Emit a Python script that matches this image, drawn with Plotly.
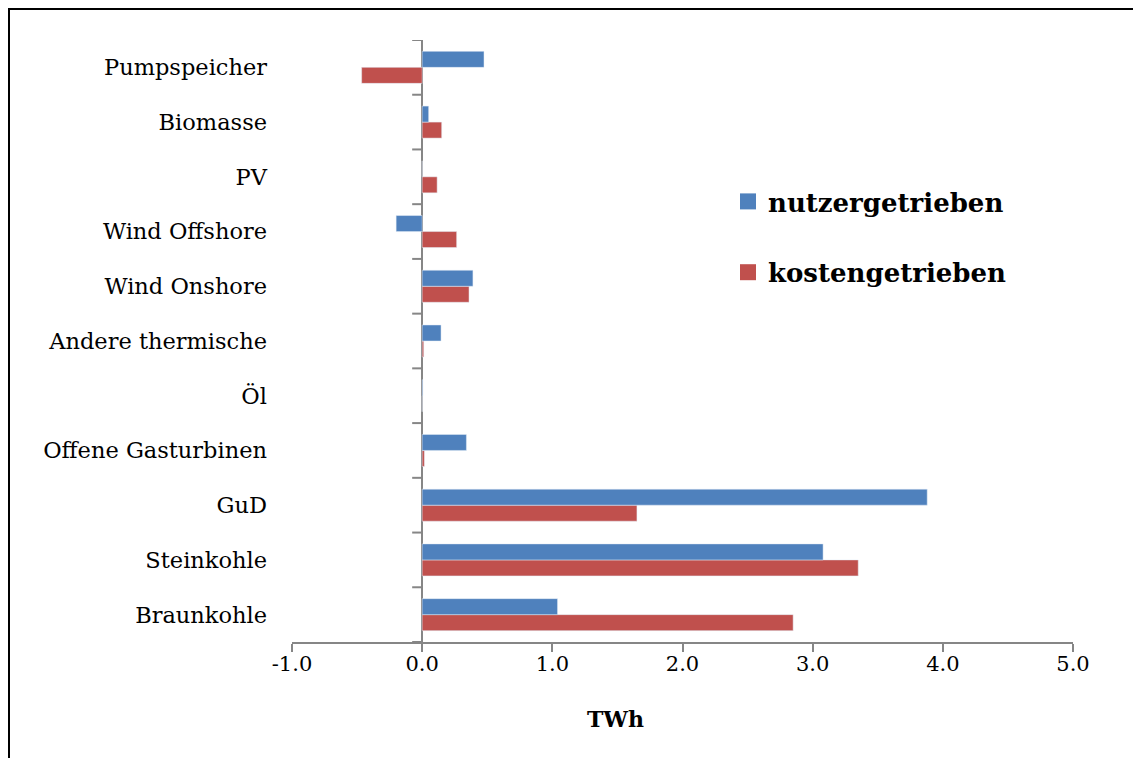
import plotly.graph_objects as go

categories = ["Braunkohle", "Steinkohle", "GuD", "Offene Gasturbinen", "Öl",
              "Andere thermische", "Wind Onshore", "Wind Offshore", "PV",
              "Biomasse", "Pumpspeicher"]
nutzergetrieben = [1.04, 3.08, 3.88, 0.34, 0.005, 0.145, 0.39, -0.20, 0.0, 0.05, 0.475]
kostengetrieben = [2.85, 3.35, 1.65, 0.017, 0.0, 0.012, 0.36, 0.265, 0.115, 0.15, -0.465]
x_ticks = [-1, 0, 1, 2, 3, 4, 5]
x_ticklabels = [f"{v:.1f}" for v in x_ticks]

BLUE = "#4F81BD"
RED = "#C0504D"
GRAY = "#868686"
FONT = "DejaVu Serif"

# page body has an 8px margin; figure sized to fit the window exactly
W, H = 1133, 750
L, T = 284, 32
pw, ph = 781, 602
R, B = W - L - pw, H - T - ph

fig = go.Figure()
fig.add_trace(go.Bar(y=categories, x=kostengetrieben, orientation="h",
                     marker=dict(color=RED), name="kostengetrieben", showlegend=False))
fig.add_trace(go.Bar(y=categories, x=nutzergetrieben, orientation="h",
                     marker=dict(color=BLUE), name="nutzergetrieben", showlegend=False))
# legend entries
fig.add_trace(go.Scatter(x=[None], y=[None], mode="markers", name="nutzergetrieben",
                         marker=dict(symbol="square", size=16, color=BLUE),
                         legendgroup="a"))
fig.add_trace(go.Scatter(x=[None], y=[None], mode="markers", name="kostengetrieben",
                         marker=dict(symbol="square", size=16, color=RED),
                         legendgroup="b"))

shapes = []
for i in range(len(categories) + 1):
    shapes.append(dict(type="line", xref="x", yref="y", xsizemode="pixel", xanchor=0,
                       x0=-10, x1=0, y0=i - 0.5, y1=i - 0.5,
                       line=dict(color=GRAY, width=2)))
# outer frame: left and top edges only
px = lambda v: (v - L) / pw
py = lambda v: (T + ph - v) / ph
shapes.append(dict(type="line", xref="paper", yref="paper",
                   x0=px(1), x1=px(W + 5), y0=py(1), y1=py(1),
                   line=dict(color="black", width=2), layer="below"))
shapes.append(dict(type="line", xref="paper", yref="paper",
                   x0=px(1), x1=px(1), y0=py(0), y1=py(H + 5),
                   line=dict(color="black", width=2), layer="below"))

fig.update_layout(
    width=W, height=H,
    margin=dict(l=L, r=R, t=T, b=B),
    paper_bgcolor="white", plot_bgcolor="white",
    barmode="group", bargap=0.415, bargroupgap=0,
    font=dict(family=FONT, color="black", size=21),
    shapes=shapes,
    showlegend=True,
    legend=dict(x=px(720), y=py(170), xanchor="left", yanchor="top",
                font=dict(family=FONT, size=26, color="black", weight="bold"),
                bgcolor="rgba(0,0,0,0)", tracegroupgap=34, itemclick=False),
    annotations=[dict(text="<b>TWh</b>", xref="paper", yref="paper",
                      x=px(607), y=py(711),
                      xanchor="center", yanchor="middle", showarrow=False,
                      font=dict(family=FONT, size=22, color="black"))],
)
fig.update_xaxes(range=[-1, 5], tickvals=x_ticks, ticktext=x_ticklabels,
                 showgrid=False, zeroline=True, zerolinecolor=GRAY, zerolinewidth=2,
                 showline=True, linecolor=GRAY, linewidth=2,
                 ticks="outside", ticklen=8, tickcolor=GRAY, tickwidth=2,
                 ticklabelstandoff=-6,
                 tickfont=dict(size=21, family=FONT))
fig.update_yaxes(type="category", categoryorder="array", categoryarray=categories,
                 range=[-0.5, len(categories) - 0.5], showgrid=False, zeroline=False,
                 showline=False, ticks="", ticklabelstandoff=24,
                 tickfont=dict(size=22.5, family=FONT))

fig.write_html("out.html")
